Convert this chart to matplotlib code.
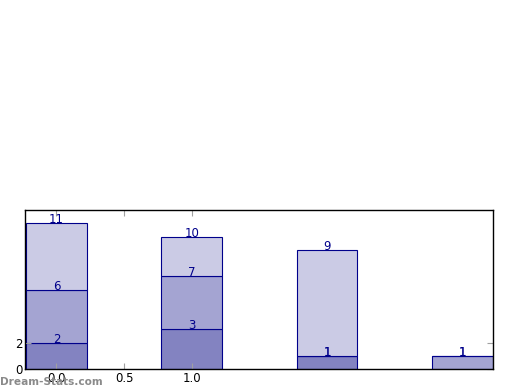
import numpy as np
import matplotlib
matplotlib.use('Agg')
import matplotlib.pyplot as plt

# 各段数值（底部->顶部）
positions = [0, 1, 2, 3]
seg_dark = [2, 3, 1, 0]
seg_mid = [4, 4, 0, 1]
seg_light = [5, 3, 8, 0]
x_ticks = [0.0, 0.5, 1.0]
y_ticks = [0, 2]

series = [seg_dark, seg_mid, seg_light]
colors = ['#8383c1', '#a4a4d2', '#cbcbe5']
edge = '#00008b'
width = 0.45

fig = plt.figure(figsize=(5.2, 3.9), dpi=100)
ax = fig.add_axes([0.0487, 0.0538, 0.9, 0.4077])

bottom = np.zeros(len(positions))
for vals, col in zip(series, colors):
    vals = np.array(vals, dtype=float)
    ax.bar(positions, vals, width=width, bottom=bottom, color=col,
           edgecolor=edge, linewidth=0.8, align='center')
    top = bottom + vals
    for x, t in zip(positions, top):
        if t > 0:
            ax.text(x, t, f'{int(t)}', ha='center', va='baseline',
                    color=edge, fontsize=8.5)
    bottom = top

ax.set_xlim(-width / 2 - 0.005, positions[-1] + width / 2 + 0.005)
ax.set_ylim(0, 12)
ax.set_xticks(x_ticks)
ax.set_xticklabels([f'{t:.1f}' for t in x_ticks])
ax.set_yticks(y_ticks)
ax.tick_params(direction='in', length=4, color='#a0a0a0', labelsize=8.5,
               top=True, right=True, pad=2)
for s in ax.spines.values():
    s.set_linewidth(1)

# 水印
fig.text(0.0, 0.008, 'Dream-Stats.com', color='#8a8a8a', fontsize=7.6,
         fontweight='bold', ha='left', va='bottom')

fig.savefig('out.png', dpi=100)
